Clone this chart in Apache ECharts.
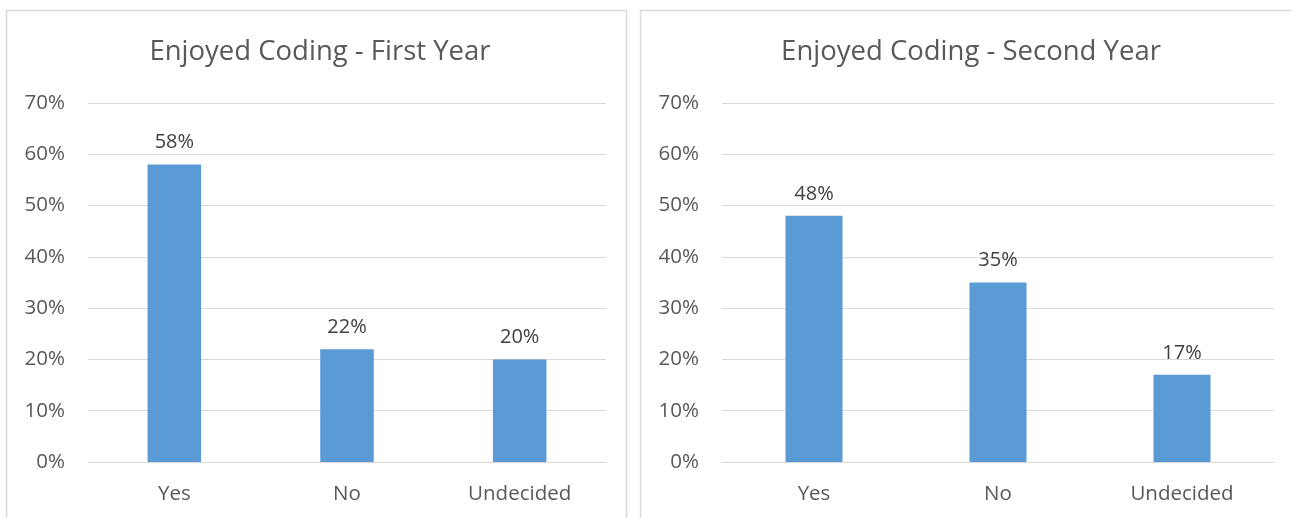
<!DOCTYPE html>
<html>
<head>
<meta charset="utf-8">
<script src="https://cdn.jsdelivr.net/npm/echarts@6/dist/echarts.min.js"></script>
<style>
  html, body { margin: 0; padding: 0; background: #ffffff; }
  #chart { width: 1291px; height: 518px; }
</style>
</head>
<body>
<div id="chart"></div>
<script>
// Survey answers, in percent
const categories = ['Yes', 'No', 'Undecided'];
const firstYear = [58, 22, 20];
const secondYear = [48, 35, 17];
const titles = ['Enjoyed Coding - First Year', 'Enjoyed Coding - Second Year'];
const yTicks = { min: 0, max: 70, interval: 10 };

const FONT = '"Open Sans", "Liberation Sans", sans-serif';
const GRID_COLOR = '#d9d9d9';
const TEXT_COLOR = '#595959';
const BAR_COLOR = '#5b9bd5';

const chart = echarts.init(document.getElementById('chart'), null, { renderer: 'canvas' });

function xAxisFor(gridIndex) {
  return {
    type: 'category',
    gridIndex,
    data: categories,
    axisLine: { show: true, lineStyle: { color: GRID_COLOR, width: 1 } },
    axisTick: { show: false },
    axisLabel: { color: TEXT_COLOR, fontSize: 20.5, fontFamily: FONT, margin: 22 }
  };
}

function yAxisFor(gridIndex) {
  return {
    type: 'value',
    gridIndex,
    min: yTicks.min,
    max: yTicks.max,
    interval: yTicks.interval,
    axisLine: { show: false },
    axisTick: { show: false },
    splitLine: { lineStyle: { color: GRID_COLOR, width: 1 } },
    axisLabel: {
      color: TEXT_COLOR, fontSize: 20.5, fontFamily: FONT, margin: 23,
      formatter: v => v + '%'
    }
  };
}

function barSeries(values, idx) {
  return {
    type: 'bar',
    xAxisIndex: idx,
    yAxisIndex: idx,
    data: values,
    barWidth: '31%',
    itemStyle: { color: BAR_COLOR },
    label: {
      show: true,
      position: 'top',
      distance: 12,
      color: '#404040',
      fontSize: 20,
      fontFamily: FONT,
      formatter: p => p.value + '%'
    },
    silent: true
  };
}

function titleFor(text, centerX) {
  return {
    text, left: centerX, top: 38, textAlign: 'center', padding: 0,
    textStyle: { color: TEXT_COLOR, fontSize: 27.5, fontWeight: 'normal', fontFamily: FONT }
  };
}

chart.setOption({
  animation: false,
  backgroundColor: '#ffffff',
  graphic: [
    { type: 'rect', shape: { x: 6.5, y: 10.5, width: 620, height: 520 },
      style: { fill: 'none', stroke: GRID_COLOR, lineWidth: 1.5 } },
    { type: 'rect', shape: { x: 640.5, y: 10.5, width: 700, height: 520 },
      style: { fill: 'none', stroke: GRID_COLOR, lineWidth: 1.5 } }
  ],
  title: [titleFor(titles[0], 320), titleFor(titles[1], 971)],
  grid: [
    { left: 88, top: 103, width: 518, height: 359 },
    { left: 722, top: 103, width: 552, height: 359 }
  ],
  xAxis: [xAxisFor(0), xAxisFor(1)],
  yAxis: [yAxisFor(0), yAxisFor(1)],
  series: [barSeries(firstYear, 0), barSeries(secondYear, 1)]
});
</script>
</body>
</html>
